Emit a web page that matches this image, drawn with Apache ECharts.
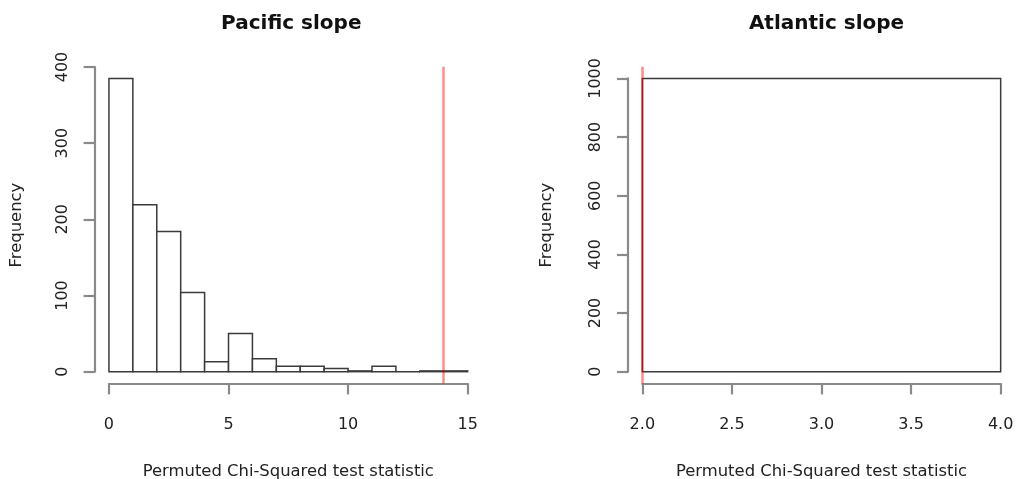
<!DOCTYPE html>
<html>
<head>
<meta charset="utf-8">
<script src="https://cdn.jsdelivr.net/npm/echarts@6/dist/echarts.min.js"></script>
<style>
  html, body { margin: 0; padding: 0; background: #ffffff; }
  #chart { width: 1017px; height: 479px; }
</style>
</head>
<body>
<div id="chart"></div>
<script>
// ---------- data ----------
const pacificBreaks = [0, 1, 2, 3, 4, 5, 6, 7, 8, 9, 10, 11, 12, 13, 14, 15];
const pacificCounts = [385, 219, 184, 104, 13, 50, 17, 7, 7, 4, 1, 7, 0, 1, 1];
const pacificObserved = 13.96;
const pacificXTicks = [0, 5, 10, 15];
const pacificYTicks = [0, 100, 200, 300, 400];

const atlanticBreaks = [2, 4];
const atlanticCounts = [1000];
const atlanticObserved = 2.0;
const atlanticXTicks = [2.0, 2.5, 3.0, 3.5, 4.0];
const atlanticYTicks = [0, 200, 400, 600, 800, 1000];

const titles = ['Pacific slope', 'Atlantic slope'];
const xLabel = 'Permuted Chi-Squared test statistic';
const yLabel = 'Frequency';

// ---------- helpers ----------
const FONT = 'DejaVu Sans';
const TEXT = '#222222';
const AXIS = '#8a8a8a';

function binsOf(breaks, counts) {
  return counts.map((c, i) => [breaks[i], breaks[i + 1], c]);
}
function extend(lo, hi) { const d = (hi - lo) * 0.04; return [lo - d, hi + d]; }

function renderHist(params, api) {
  const x0 = api.value(0), x1 = api.value(1), c = api.value(2);
  const p0 = api.coord([x0, 0]);
  const p1 = api.coord([x1, c]);
  return {
    type: 'rect',
    shape: { x: p0[0], y: p1[1], width: p1[0] - p0[0], height: p0[1] - p1[1] },
    style: { fill: '#ffffff', stroke: '#3a3a3a', lineWidth: 1.5 }
  };
}

function panel(cfg) {
  const xr = extend(cfg.breaks[0], cfg.breaks[cfg.breaks.length - 1]);
  const yr = extend(0, Math.max.apply(null, cfg.counts));
  return { xr, yr, xt: cfg.xTicks, yt: cfg.yTicks };
}

const P = panel({ breaks: pacificBreaks, counts: pacificCounts, xTicks: pacificXTicks, yTicks: pacificYTicks });
const A = panel({ breaks: atlanticBreaks, counts: atlanticCounts, xTicks: atlanticXTicks, yTicks: atlanticYTicks });

// plot regions (pixels)
const LP = { left: 94.6, top: 66.7, width: 387.4, height: 316.7 };
const RP = { left: 628, top: 66.7, width: 387, height: 316.7 };

function pxX(region, r, v) { return region.left + (v - r[0]) / (r[1] - r[0]) * region.width; }
function pxY(region, r, v) { return region.top + (r[1] - v) / (r[1] - r[0]) * region.height; }

function displayGrids(region, S) {
  const xt0 = pxX(region, S.xr, S.xt[0]);
  const xt1 = pxX(region, S.xr, S.xt[S.xt.length - 1]);
  const yt1 = pxY(region, S.yr, S.yt[S.yt.length - 1]);
  const yt0 = pxY(region, S.yr, S.yt[0]);
  return {
    yGrid: { left: region.left, top: yt1, width: 1, height: yt0 - yt1 },
    xGrid: { left: xt0, top: region.top + region.height - 1, width: xt1 - xt0, height: 1 }
  };
}
const LD = displayGrids(LP, P);
const RD = displayGrids(RP, A);

function G(r) { return Object.assign({ outerBoundsMode: 'none', containLabel: false }, r); }

const hidden = { show: false };
const lineStyle = { color: AXIS, width: 2.2 };
const labelStyle = { color: TEXT, fontFamily: FONT, fontSize: 16 };

function mainX(gridIndex, S, gap) {
  return {
    type: 'value', gridIndex, min: S.xr[0], max: S.xr[1],
    axisLine: hidden, axisTick: hidden, axisLabel: hidden, splitLine: hidden,
    name: xLabel, nameLocation: 'middle', nameGap: gap,
    nameTextStyle: { color: TEXT, fontFamily: FONT, fontSize: 16.4 }
  };
}
function mainY(gridIndex, S, gap) {
  return {
    type: 'value', gridIndex, min: S.yr[0], max: S.yr[1],
    axisLine: hidden, axisTick: hidden, axisLabel: hidden, splitLine: hidden,
    name: yLabel, nameLocation: 'middle', nameGap: gap, nameRotate: 90,
    nameTextStyle: { color: TEXT, fontFamily: FONT, fontSize: 16.4 }
  };
}
function dispX(gridIndex, ticks, fmt) {
  return {
    type: 'value', gridIndex, position: 'bottom',
    min: ticks[0], max: ticks[ticks.length - 1], interval: ticks[1] - ticks[0],
    axisLine: { show: true, lineStyle },
    axisTick: { show: true, length: 11, lineStyle },
    axisLabel: Object.assign({ margin: 33, showMinLabel: true, showMaxLabel: true, formatter: fmt }, labelStyle),
    splitLine: hidden
  };
}
function dispY(gridIndex, ticks) {
  return {
    type: 'value', gridIndex, position: 'left',
    min: ticks[0], max: ticks[ticks.length - 1], interval: ticks[1] - ticks[0],
    axisLine: { show: true, lineStyle },
    axisTick: { show: true, length: 11, lineStyle },
    axisLabel: Object.assign({ margin: 24, rotate: 90, showMinLabel: true, showMaxLabel: true,
      formatter: v => String(v) }, labelStyle),
    splitLine: hidden
  };
}
function hiddenAxis(gridIndex) {
  return { type: 'value', gridIndex, show: false, min: 0, max: 1 };
}

const redLine = (v) => ({
  silent: true, symbol: ['none', 'none'], label: { show: false },
  lineStyle: { color: 'rgba(255,0,0,0.45)', width: 2.5, type: 'solid' },
  emphasis: { disabled: true },
  data: [{ xAxis: v }]
});

const titleStyle = { fontFamily: FONT, fontWeight: 'bold', fontSize: 20, color: '#111' };

const option = {
  animation: false,
  backgroundColor: '#ffffff',
  title: [
    { text: titles[0], left: LP.left + LP.width / 2 - 2, top: 9, textAlign: 'center', textStyle: titleStyle },
    { text: titles[1], left: RP.left + RP.width / 2, top: 9, textAlign: 'center', textStyle: titleStyle }
  ],
  grid: [
    G(LP),       // 0 left main
    G(LD.yGrid), // 1 left y display
    G(LD.xGrid), // 2 left x display
    G(RP),       // 3 right main
    G(RD.yGrid), // 4 right y display
    G(RD.xGrid)  // 5 right x display
  ],
  xAxis: [
    mainX(0, P, 80),
    hiddenAxis(1),
    dispX(2, pacificXTicks, v => String(v)),
    mainX(3, A, 80),
    hiddenAxis(4),
    dispX(5, atlanticXTicks, v => v.toFixed(1))
  ],
  yAxis: [
    mainY(0, P, 70),
    dispY(1, pacificYTicks),
    hiddenAxis(2),
    mainY(3, A, 73),
    dispY(4, atlanticYTicks),
    hiddenAxis(5)
  ],
  series: [
    {
      type: 'custom', xAxisIndex: 0, yAxisIndex: 0, renderItem: renderHist,
      encode: { x: [0, 1], y: 2 }, data: binsOf(pacificBreaks, pacificCounts),
      silent: true, clip: false, z: 2,
      markLine: redLine(pacificObserved)
    },
    {
      type: 'custom', xAxisIndex: 3, yAxisIndex: 3, renderItem: renderHist,
      encode: { x: [0, 1], y: 2 }, data: binsOf(atlanticBreaks, atlanticCounts),
      silent: true, clip: false, z: 2,
      markLine: redLine(atlanticObserved)
    }
  ]
};

const chart = echarts.init(document.getElementById('chart'), null, { renderer: 'canvas' });
chart.setOption(option);
</script>
</body>
</html>
